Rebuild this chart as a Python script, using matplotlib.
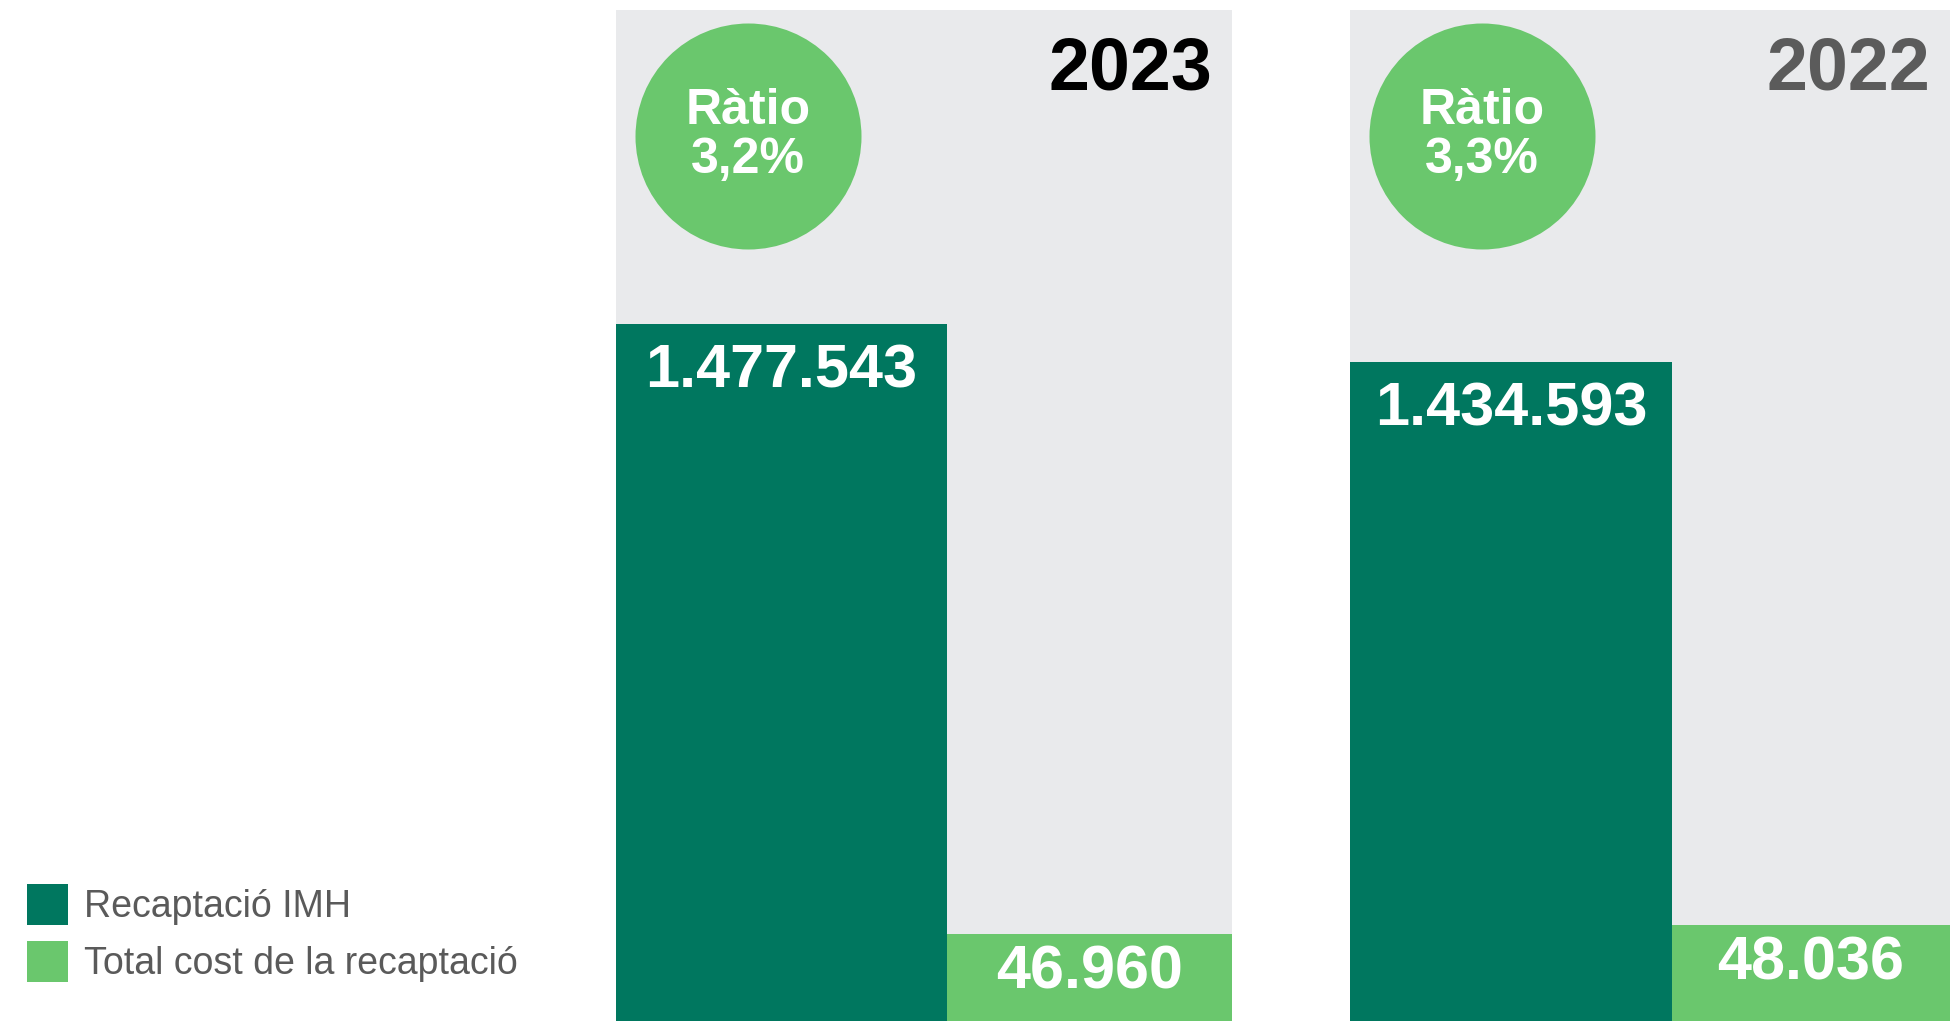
import matplotlib.pyplot as plt

# dades
years = ['2023', '2022']
recaptacio = [1477543, 1434593]
cost = [46960, 48036]
ratio = ['3,2%', '3,3%']
series_names = ['Recaptació IMH', 'Total cost de la recaptació']

# colors
dark = '#00775F'
light = '#6AC76D'
bg = '#E9EAEC'
year_colors = ['black', '#5B5B5B']

plt.rcParams['font.family'] = ['Liberation Sans', 'DejaVu Sans']

W, H = 1952, 1021
fig = plt.figure(figsize=(W / 100, H / 100), dpi=100)

# posició dels panells en píxels (esquerra, amplada) i escales (no proporcionals a l'original)
panel_left = [616, 1350]
panel_width = [616, 600]
panel_top = 10
rec_ylim = [2143000, 2201000]
cost_ylim = [545700, 505900]
split = 0.537


def fmt(v):
    return f'{v:,}'.replace(',', '.')


bars = []
for i in range(len(years)):
    ax = fig.add_axes([panel_left[i] / W, 0, panel_width[i] / W, (H - panel_top) / H])
    ax.set_facecolor(bg)
    ax2 = ax.twinx()

    b1 = ax.bar(0, recaptacio[i], width=split, align='edge', color=dark, label=series_names[0])
    b2 = ax2.bar(split, cost[i], width=1 - split, align='edge', color=light, label=series_names[1])
    if i == 0:
        bars = [b1, b2]

    ax.set_xlim(0, 1)
    ax.set_ylim(0, rec_ylim[i])
    ax2.set_ylim(0, cost_ylim[i])
    for a in (ax, ax2):
        a.set_xticks([])
        a.set_yticks([])
        for s in a.spines.values():
            s.set_visible(False)

    # etiquetes de valor
    ax.annotate(fmt(recaptacio[i]), (split / 2, recaptacio[i]), xytext=(0, -46),
                textcoords='offset points', ha='center', va='baseline',
                color='white', fontsize=44, fontweight='bold')
    ax2.annotate(fmt(cost[i]), (split + (1 - split) / 2, cost[i]), xytext=(0, -39.5),
                 textcoords='offset points', ha='center', va='baseline',
                 color='white', fontsize=44, fontweight='bold')

    # any
    ax2.text(0.968, 0.9209, years[i], transform=ax.transAxes, ha='right', va='baseline',
             color=year_colors[i], fontsize=53, fontweight='bold')

    # cercle amb la ràtio
    cx = 132 / panel_width[i]
    ax2.scatter([cx], [0.8754], s=(226 * 0.72) ** 2, color=light, transform=ax.transAxes,
                zorder=5, linewidths=0)
    ax2.text(cx, 0.8872, 'Ràtio', transform=ax.transAxes, ha='center', va='baseline',
             color='white', fontsize=36, fontweight='bold', zorder=6)
    ax2.text(cx, 0.8388, ratio[i], transform=ax.transAxes, ha='center', va='baseline',
             color='white', fontsize=36, fontweight='bold', zorder=6)

# llegenda
leg = fig.legend(handles=bars, labels=series_names, loc='upper left',
                 bbox_to_anchor=(27 / W, 1 - 884 / H), frameon=False, fontsize=27,
                 handlelength=1.1, handleheight=1.3, labelspacing=0.42, handletextpad=0.42,
                 borderpad=0, borderaxespad=0)
for t in leg.get_texts():
    t.set_color('#5A5A5A')

fig.savefig('out.png', dpi=100)
